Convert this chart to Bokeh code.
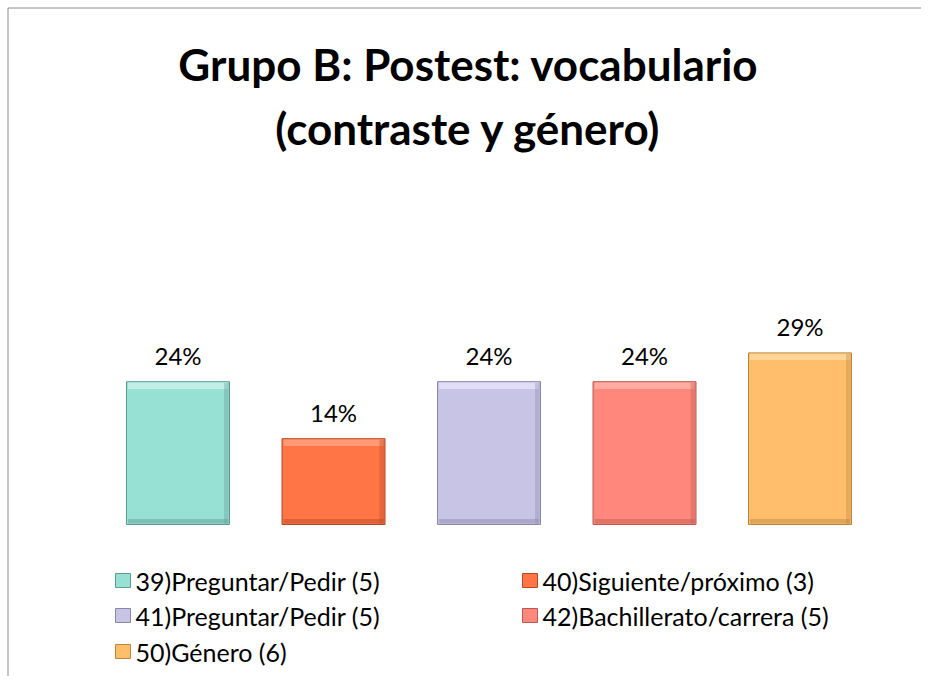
from bokeh.plotting import figure
from bokeh.models import Range1d
from bokeh.core.properties import value
from bokeh.embed import file_html
from bokeh.resources import INLINE

# ---- data ----
categories = ["39)Preguntar/Pedir (5)", "40)Siguiente/próximo (3)", "41)Preguntar/Pedir (5)",
              "42)Bachillerato/carrera (5)", "50)Género (6)"]
values = [23.8, 14.3, 23.8, 23.8, 28.6]
labels = ["24%", "14%", "24%", "24%", "29%"]
colors = ["#97E0D4", "#FF7545", "#C8C4E6", "#FF877B", "#FFBE6B"]
edges = ["#5E9A90", "#B44A24", "#8A86A8", "#B85A52", "#B9853F"]
tops_light = ["#C9F3EC", "#FFA47F", "#E6E3F8", "#FFB4AB", "#FFDCA3"]
title_lines = ["Grupo B: Postest: vocabulario", "(contraste y género)"]

W, H = 921, 676
FONT = "Lato"

# layout: canvas px -> data helpers
SPACING = 155.5
X0 = 177.5  # canvas x of first category centre
PXPCT = 6.0
BASE = 524  # canvas y of baseline (from top)

def dx(px):
    return (px - X0) / SPACING

def dy(py):
    return (BASE - py) / PXPCT

p = figure(width=W, height=H, output_backend="svg", toolbar_location=None,
           x_range=Range1d(-X0 / SPACING, (W - X0) / SPACING),
           y_range=Range1d(-(H - BASE) / PXPCT, BASE / PXPCT),
           min_border=0)
p.axis.visible = False
p.grid.visible = False
p.outline_line_color = None
p.background_fill_color = "white"
p.border_fill_color = "white"

# chart area border (only left and top edges are visible in the reference)
p.segment(x0=[dx(7.5), dx(7.5)], y0=[dy(7.5), dy(7.5)],
          x1=[dx(7.5), dx(W)], y1=[dy(H), dy(7.5)],
          line_color="#8C8C8C", line_width=1)

xs = list(range(len(categories)))
bw = 103 / SPACING
p.vbar(x=xs, top=values, bottom=0, width=bw, fill_color=colors, line_color=edges, line_width=1)
# bevel highlights
p.quad(left=[x - bw / 2 + 0.01 for x in xs], right=[x + bw / 2 - 0.01 for x in xs],
       top=[v - 0.15 for v in values], bottom=[v - 1.2 for v in values],
       fill_color=tops_light, line_color=None, fill_alpha=0.8)
p.quad(left=[x - bw / 2 + 0.01 for x in xs], right=[x + bw / 2 - 0.01 for x in xs],
       top=[0.9] * len(xs), bottom=[0.15] * len(xs),
       fill_color=edges, line_color=None, fill_alpha=0.45)
p.quad(left=[x + bw / 2 - 0.035 for x in xs], right=[x + bw / 2 - 0.005 for x in xs],
       top=[v - 0.2 for v in values], bottom=[0.15] * len(xs),
       fill_color=edges, line_color=None, fill_alpha=0.35)

# data labels
p.text(x=xs, y=values, text=labels, text_align="center", text_baseline="middle",
       y_offset=-26, text_font=value(FONT), text_font_size="24px", text_color="#000000")

# title
p.text(x=[dx(468), dx(468)], y=[dy(63), dy(127)], text=title_lines,
       text_align="center", text_baseline="middle", text_font=value(FONT),
       text_font_size="44px", text_font_style="bold", text_color="#000000")

# legend (two columns, row-major)
col_sq = [115, 522]
col_tx = [135, 542]
row_y = [580, 615, 651]
for i, cat in enumerate(categories):
    r, c = divmod(i, 2)
    cy = row_y[r]
    sx = col_sq[c]
    p.quad(left=[dx(sx)], right=[dx(sx + 15)], top=[dy(cy - 7)], bottom=[dy(cy + 7)],
           fill_color=colors[i], line_color=edges[i], line_width=1)
    p.text(x=[dx(col_tx[c])], y=[dy(cy)], text=[cat], text_align="left", text_baseline="middle",
           text_font=value(FONT), text_font_size="25px", text_color="#000000")

open("out.html", "w").write(file_html(p, INLINE))
